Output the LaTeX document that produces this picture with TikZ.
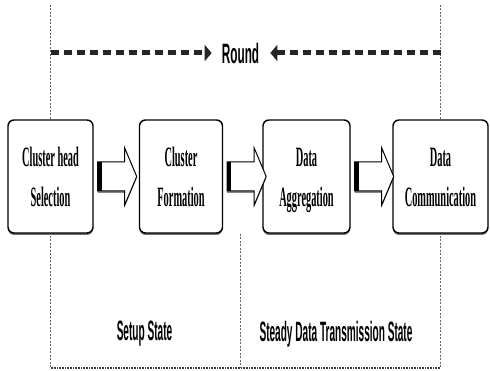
\documentclass[tikz,border=0pt]{standalone}
\usepackage{fontspec}
\usepackage{graphicx}
\setmainfont{Liberation Serif}
\setsansfont{Liberation Sans}
\usetikzlibrary{arrows.meta,shadows,calc,backgrounds}
\tikzset{
	>={Triangle[length=7pt,width=16pt]},
	stage/.style={
		rectangle,
		rounded corners=6pt,
		draw=black, line width=1.4pt,
		fill=white,
		minimum height=113pt,
		inner sep=0pt,
		align=center,
		text depth=0pt,
		font=\bfseries\fontsize{28}{40}\selectfont,
		drop shadow={shadow xshift=0pt, shadow yshift=-2pt, fill=black!80, opacity=.7}},
	blockarrow/.style={draw=black, line width=1pt, fill=white,
		drop shadow={shadow xshift=0pt, shadow yshift=-2pt, fill=black!80, opacity=.6}},
	guide/.style={line width=.6pt, black!60, dash pattern=on 2pt off 1.5pt},
	baseline rule/.style={line width=1.6pt, black!75, dash pattern=on 1pt off .6pt},
	roundline/.style={->, line width=5pt, black!85, dash pattern=on 8pt off 5pt},
	statetext/.style={inner sep=2pt, font=\sffamily\bfseries\fontsize{28}{32}\selectfont},
}
% squeeze text horizontally
\newcommand{\narrow}[2][.37]{\scalebox{#1}[1]{#2}}
\newcommand{\firstline}{\rule{0pt}{21pt}}

\begin{document}
\begin{tikzpicture}[x=1pt,y=1pt]
	\useasboundingbox (0,0) rectangle (490,371);

	% the four stages of one round
	\node[stage, minimum width=85pt] (chs) at (50.5,194.5)
		{\firstline\narrow{Cluster head}\\\narrow{Selection}};
	\node[stage, minimum width=83pt] (cf) at (181,194.5)
		{\firstline\narrow{Cluster}\\\narrow{Formation}};
	\node[stage, minimum width=87pt] (da) at (306.5,194.5)
		{\firstline\narrow{Data}\\\narrow{Aggregation}};
	\node[stage, minimum width=95pt] (dc) at (440.5,194.5)
		{\firstline\narrow{Data}\\\narrow{Communication}};

	% hollow block arrows between the stages, dark bar at the tail
	\foreach \from in {chs, cf, da} {
		\draw[blockarrow] ($(\from.east)+(4pt,0)$) ++(0,14.5) -- ++(27,0) -- ++(0,14)
			-- ++(12,-28.5) -- ++(-12,-28.5) -- ++(0,14) -- ++(-27,0) -- cycle;
		\fill ($(\from.east)+(4pt,-14.5pt)$) rectangle ++(4,29);
	}

	% round label with the two dashed arrows
	\node[statetext] (round) at (240.5,318) {\narrow[.42]{Round}};
	\draw[roundline, shorten >=8pt] (chs |- round) -- (round.west);
	\draw[roundline, shorten >=9pt] (dc |- round) -- (round.east);

	% the two states below
	\node[statetext] (setup) at (144.5,37) {\narrow[.36]{Setup State}};
	\node[statetext] (steady) at (336,37) {\narrow[.36]{Steady Data Transmission State}};

	% frame lines, behind the boxes
	\coordinate (top) at (0,366);
	\coordinate (base) at (0,3);
	\coordinate (split) at (240,0);
	\begin{scope}[on background layer]
		\draw[guide] (chs |- top) -- (chs |- base);
		\draw[guide] (dc |- top) -- (dc |- base);
		\draw[guide] (split |- chs.south) -- (split |- base);
		\draw[baseline rule] (chs |- base) -- (dc |- base);
	\end{scope}
\end{tikzpicture}
\end{document}
